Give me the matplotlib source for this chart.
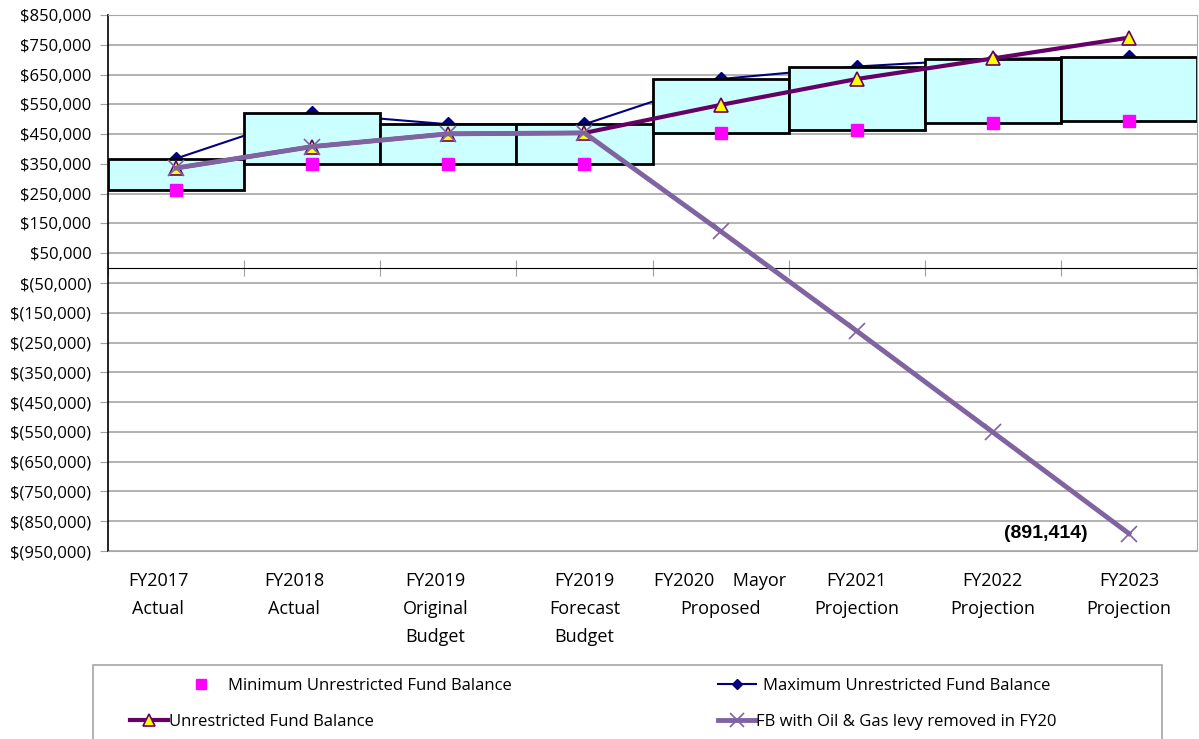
import numpy as np
import matplotlib
matplotlib.use("Agg")
import matplotlib.pyplot as plt
from matplotlib.patches import Rectangle
from matplotlib.ticker import FuncFormatter
from matplotlib.transforms import ScaledTranslation

plt.rcParams['font.family'] = ['Open Sans', 'DejaVu Sans']

categories = ["FY2017\nActual", "FY2018\nActual", "FY2019\nOriginal\nBudget",
              "FY2019\nForecast\nBudget", "FY2020    Mayor\nProposed",
              "FY2021\nProjection", "FY2022\nProjection", "FY2023\nProjection"]

min_fb = [263000, 349000, 350000, 350000, 453000, 464000, 488000, 493000]
max_fb = [368000, 521000, 483000, 483000, 635000, 677000, 703000, 708000]
unrestricted_fb = [336000, 408000, 451000, 454000, 548000, 635000, 704000, 774000]
fb_no_levy = [336000, 408000, 451000, 454000, 124000, -211000, -551000, -891414]

# horizontal nudge (px) for the category labels
label_shift = [-18, -18, -13, 0, 0, 0, 0, 0]

W, H = 1199, 739
fig = plt.figure(figsize=(W / 100, H / 100), dpi=100)
ax = fig.add_axes([108 / W, 1 - 551 / H, (1197 - 108) / W, (551 - 15) / H])

x = np.arange(len(categories))
lo = np.array(min_fb)
hi = np.array(max_fb)

# max line sits under the range boxes
ax.plot(x, max_fb, color='#000080', lw=1.5, marker='D', ms=7, zorder=1,
        label='Maximum Unrestricted Fund Balance')
ax.bar(x, hi - lo, bottom=lo, width=1.0, color='#CCFFFF', edgecolor='black',
       linewidth=2, zorder=2)
ax.plot(x, min_fb, linestyle='none', marker='s', ms=9, color='#FF00FF', zorder=3,
        label='Minimum Unrestricted Fund Balance')
ax.plot(x, unrestricted_fb, color='#660066', lw=3, marker='^', ms=10,
        markerfacecolor='#FFFF00', markeredgecolor='#660066', markeredgewidth=1.2,
        zorder=4, label='Unrestricted Fund Balance')
ax.plot(x, fb_no_levy, color='#8064A2', lw=3.5, marker='x', ms=12, mew=1.2,
        zorder=5, label='FB with Oil & Gas levy removed in FY20')

last = fb_no_levy[-1]
ax.annotate("({:,.0f})".format(abs(last)), (x[-1], last), xytext=(-30, 0),
            textcoords='offset points', ha='right', va='center',
            fontsize=14, fontweight='bold', family='Liberation Sans')

ax.set_xlim(-0.5, len(categories) - 0.5)
ax.set_ylim(-950000, 850000)
ax.set_yticks(np.arange(-950000, 850001, 100000))


def money(v, pos):
    if v < 0:
        return "$({:,.0f})".format(abs(v))
    return "${:,.0f}".format(v)


ax.yaxis.set_major_formatter(FuncFormatter(money))
ax.tick_params(axis='y', labelsize=12, length=6, color='#A0A0A0', pad=6)
ax.set_xticks(x)
ax.set_xticklabels(categories, fontsize=13, linespacing=1.72)
ax.tick_params(axis='x', length=0, pad=15)
for lab, dx in zip(ax.get_xticklabels(), label_shift):
    lab.set_transform(lab.get_transform() + ScaledTranslation(dx / 100, 0, fig.dpi_scale_trans))
ax.grid(axis='y', color='#A6A6A6', lw=1.2)
ax.set_axisbelow(True)

for side in ['top', 'right', 'bottom']:
    ax.spines[side].set_color('#A6A6A6')
ax.spines['left'].set_color('black')
ax.spines['left'].set_linewidth(1.2)

# horizontal axis through zero with tick marks between categories
zero_frac = 950000 / 1800000
sec = ax.secondary_xaxis(zero_frac)
sec.set_xticks(np.arange(len(categories) + 1) - 0.5)
sec.set_xticklabels([])
sec.tick_params(direction='inout', length=12, color='#A0A0A0')
sec.spines['bottom'].set_color('black')
sec.spines['bottom'].set_linewidth(1.5)

# legend box
fig.patches.append(Rectangle((93 / W, -0.05), (1162 - 93) / W, 0.05 + 1 - 665 / H,
                             transform=fig.transFigure, fill=False,
                             edgecolor='#A6A6A6', lw=1.2))

handles = {h.get_label(): h for h in ax.get_lines()}
entries = [
    ('Minimum Unrestricted Fund Balance', 193, 686, 1.0, 1.1),
    ('Maximum Unrestricted Fund Balance', 718, 686, 2.3, 0.4),
    ('Unrestricted Fund Balance', 130, 722, 2.3, 0.05),
    ('FB with Oil & Gas levy removed in FY20', 718, 722, 2.3, 0.0),
]
for name, hx, hy, hl, pad in entries:
    h = handles[name]
    fig.legend([h], [name], loc='center left', bbox_to_anchor=(hx / W, 1 - hy / H),
               frameon=False, borderpad=0, borderaxespad=0, handlelength=hl,
               handletextpad=pad, fontsize=12, markerscale=0.8)

fig.savefig('out.png', dpi=100)
